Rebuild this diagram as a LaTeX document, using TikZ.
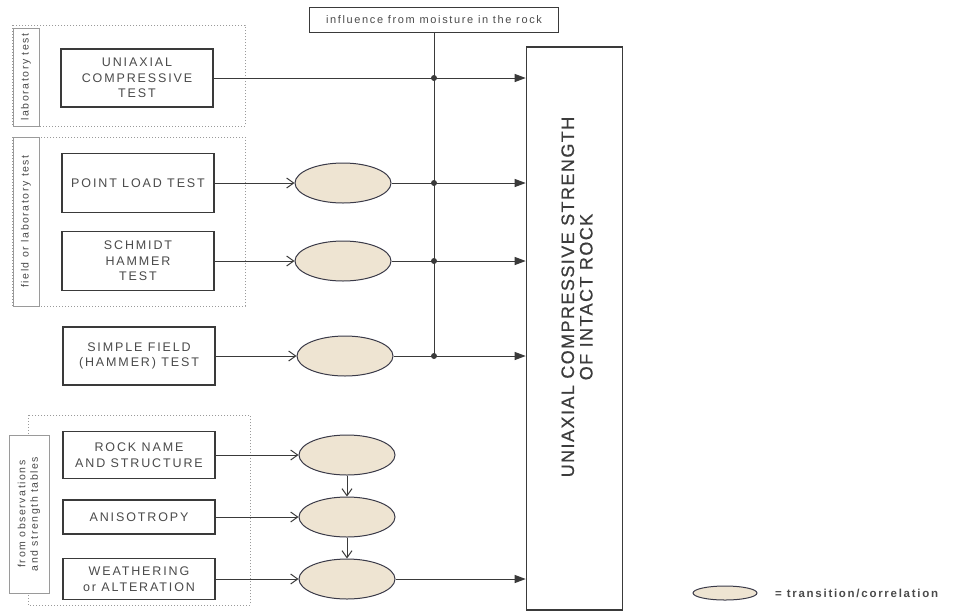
\documentclass[tikz,border=0pt]{standalone}
\usepackage{fontspec}
\setmainfont{Liberation Sans}
\newfontfamily\spaced[LetterSpace=15]{Liberation Sans}
\newfontfamily\bigspaced[LetterSpace=8,FakeBold=0.6]{Liberation Sans}
\usetikzlibrary{arrows.meta,shapes.geometric}
\definecolor{linec}{HTML}{3A3A3A}
\definecolor{textc}{HTML}{4A4A4A}
\definecolor{bigtextc}{HTML}{3C3C3C}
\definecolor{framec}{HTML}{9A9A9A}
\definecolor{ellfill}{HTML}{EEE4D2}
\definecolor{ellline}{HTML}{3A3A48}
\tikzset{
  testbox/.style={draw=linec, line width=1.1pt, inner sep=0pt, align=center,
    text=textc, font=\spaced\fontsize{12.5}{15.5}\selectfont, minimum width=152pt},
  corr/.style={ellipse, draw=ellline, line width=1pt, fill=ellfill, inner sep=0pt,
    minimum width=96pt, minimum height=40pt},
  grplabel/.style={draw=framec, line width=0.8pt, inner sep=0pt, align=center, rotate=90,
    text=textc, font=\spaced\fontsize{10.5}{12.5}\selectfont},
  grpframe/.style={draw=framec, line width=1pt, dotted},
  conn/.style={draw=linec, line width=1pt},
  openarr/.style={conn, -{Straight Barb[length=7pt,width=10pt,line width=1pt]}},
  fillarr/.style={conn, -{Triangle[length=11pt,width=8pt]}},
  jdot/.style={fill=linec}
}
\begin{document}
\begin{tikzpicture}[x=1pt,y=-1pt]
\useasboundingbox (0,0) rectangle (960,614);

% group frames
\draw[grpframe] (12,25) rectangle (245,126);
\draw[grpframe] (12,137) rectangle (245,306);
\draw[grpframe] (28,415) rectangle (250,605);
\node[grplabel, fill=white, minimum width=98pt, minimum height=26pt] (g1) at (26,77) {laboratory test};
\node[grplabel, fill=white, minimum width=169pt, minimum height=26pt] (g2) at (26,221.5) {field or laboratory test};
\node[grplabel, fill=white, minimum width=158pt, minimum height=40pt] (g3) at (29,514) {from observations\\and strength tables};

% test boxes
\node[testbox, minimum height=58pt] (uct) at (137,78) {UNIAXIAL\\COMPRESSIVE\\TEST};
\node[testbox, minimum height=59pt] (plt) at (138,183) {POINT LOAD TEST};
\node[testbox, minimum height=59pt] (sht) at (138,261) {SCHMIDT\\HAMMER\\TEST};
\node[testbox, minimum height=58pt] (sft) at (139,356) {SIMPLE FIELD\\(HAMMER) TEST};
\node[testbox, minimum height=47pt] (rns) at (139,455) {ROCK NAME\\AND STRUCTURE};
\node[testbox, minimum height=34pt] (ani) at (139,517) {ANISOTROPY};
\node[testbox, minimum height=41pt] (wea) at (139,579) {WEATHERING\\or ALTERATION};

% correlation ellipses
\node[corr] (e1) at (343,183) {};
\node[corr] (e2) at (343,261) {};
\node[corr] (e3) at (345,356) {};
\node[corr] (e4) at (347,455) {};
\node[corr] (e5) at (347,517) {};
\node[corr] (e6) at (347,579) {};

% target
\node[draw=linec, line width=1.6pt, minimum width=96pt, minimum height=563pt, inner sep=0pt] (ucs) at (574.5,328.5) {};
\node[rotate=90, align=center, text=bigtextc, font=\bigspaced\fontsize{18}{18.5}\selectfont] (ucst) at (577,297) {UNIAXIAL COMPRESSIVE STRENGTH\\OF INTACT ROCK};

% moisture
\node[draw=linec, line width=0.9pt, minimum width=249pt, minimum height=25pt, inner sep=0pt,
  text=textc, font=\spaced\fontsize{11}{13}\selectfont] (moist) at (434,19.5) {influence from moisture in the rock};
\coordinate (vb) at (moist.south |- e3);
\draw[conn] (moist.south) -- (vb);

% connectors
\draw[fillarr] (uct.east) -- (uct.east -| ucs.west);
\draw[openarr] (plt.east) -- (e1.west);
\draw[openarr] (sht.east) -- (e2.west);
\draw[openarr] (sft.east) -- (e3.west);
\draw[openarr] (rns.east) -- (e4.west);
\draw[openarr] (ani.east) -- (e5.west);
\draw[openarr] (wea.east) -- (e6.west);
\draw[fillarr] (e1.east) -- (e1.east -| ucs.west);
\draw[fillarr] (e2.east) -- (e2.east -| ucs.west);
\draw[fillarr] (e3.east) -- (e3.east -| ucs.west);
\draw[fillarr] (e6.east) -- (e6.east -| ucs.west);
\draw[openarr] (e4.south) -- (e5.north);
\draw[openarr] (e5.south) -- (e6.north);

% junction dots
\fill[jdot] (moist.south |- uct.east) circle[radius=3pt];
\fill[jdot] (moist.south |- e1) circle[radius=3pt];
\fill[jdot] (moist.south |- e2) circle[radius=3pt];
\fill[jdot] (vb) circle[radius=3pt];

% legend
\node[corr, minimum width=64pt, minimum height=14pt] (leg) at (725,593) {};
\node[anchor=west, text=textc, font=\spaced\bfseries\fontsize{11.5}{13}\selectfont, inner sep=0pt] (legt) at (775,593) {= transition/correlation};
\end{tikzpicture}
\end{document}
